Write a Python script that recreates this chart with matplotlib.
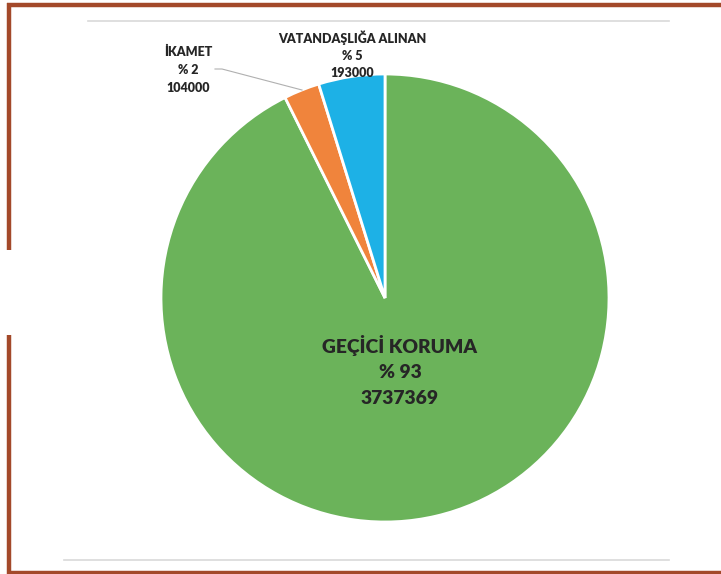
import matplotlib.pyplot as plt

# data
categories = ['GEÇİCİ KORUMA', 'İKAMET', 'VATANDAŞLIĞA ALINAN']
counts = [3737369, 104000, 193000]
pct_labels = ['% 93', '% 2', '% 5']
colors = ['#6BB35A', '#F0843C', '#1DB1E6']

W, H = 721, 574
fig = plt.figure(figsize=(W / 100, H / 100), dpi=100)
fig.patch.set_facecolor('white')

# pie axes placed in pixel terms: centre (385, 298), radius 224
cx, cy, r = 385, 298, 224
pie_ax = fig.add_axes([(cx - r) / W, (H - cy - r) / H, 2 * r / W, 2 * r / H])
pie_ax.pie(counts, colors=colors, startangle=90, counterclock=False,
           wedgeprops=dict(edgecolor='white', linewidth=2))
pie_ax.set_xlim(-1, 1)
pie_ax.set_ylim(-1, 1)
pie_ax.axis('off')

# overlay for frame, gridlines and labels, in pixel coords
ov = fig.add_axes([0, 0, 1, 1], facecolor='none')
ov.set_xlim(0, W)
ov.set_ylim(H, 0)
ov.axis('off')

brown = '#A3492A'
ov.plot([7, W], [4.5, 4.5], color=brown, lw=3.2, solid_capstyle='butt')
ov.plot([9, 9], [3, 250], color=brown, lw=3.2, solid_capstyle='butt')
ov.plot([9, 9], [335, 574], color=brown, lw=3.2, solid_capstyle='butt')
ov.plot([7, W], [572.5, 572.5], color=brown, lw=3.2, solid_capstyle='butt')

ov.plot([88, 669], [21, 21], color='#D9D9D9', lw=1.2)
ov.plot([64, 669], [560, 560], color='#D9D9D9', lw=1.2)

# leader line for the small slice
ov.plot([215, 222, 302], [69, 69, 90], color='#B0B0B0', lw=0.8)

txt = dict(family='Lato', fontweight='heavy', color='#262626', ha='center', va='center')
label_pos = [(400, 345, 27, 13.9), (188, 52, 18, 9.0), (352, 38, 17.5, 9.0)]
for name, n, p, (x, y, step, fs) in zip(categories, counts, pct_labels, label_pos):
    ov.text(x, y, name, fontsize=fs, **txt)
    ov.text(x, y + step, p, fontsize=fs, **txt)
    ov.text(x, y + 2 * step, str(n), fontsize=fs, **txt)

fig.savefig('out.png', dpi=100)
